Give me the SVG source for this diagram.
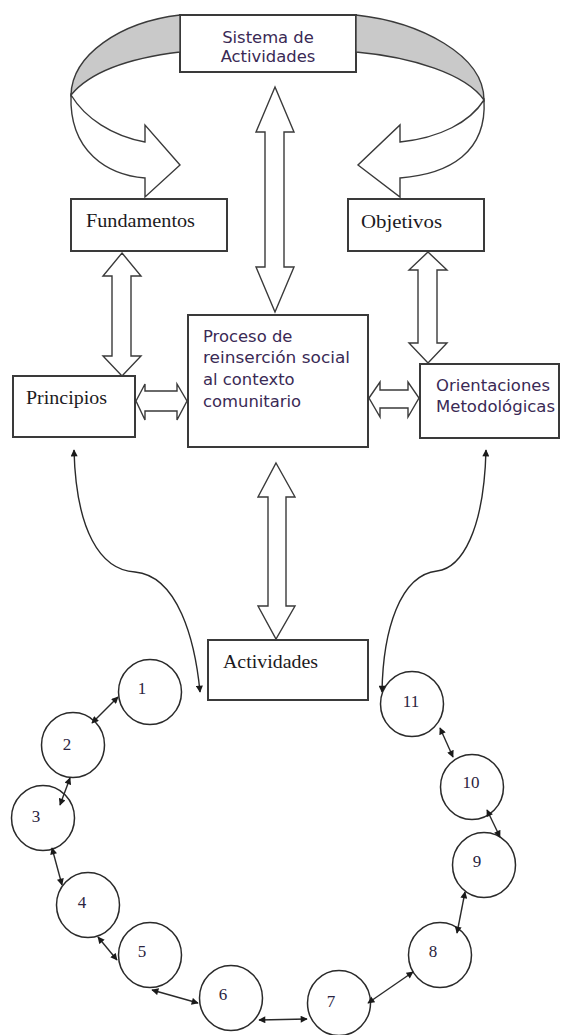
<svg xmlns="http://www.w3.org/2000/svg" width="561" height="1035" viewBox="0 0 561 1035">
<defs>
<style>
.box{fill:#fff;stroke:#3a3a3a;stroke-width:2}
.blk{fill:#fff;stroke:#3a3a3a;stroke-width:1.4;stroke-linejoin:miter}
.band{fill:#fff;stroke:#3a3a3a;stroke-width:1.4}
.grey{fill:#c9c9c9;stroke:#3a3a3a;stroke-width:1.4}
.cir{fill:#fff;stroke:#2a2a2a;stroke-width:1.5}
.lnk{fill:none;stroke:#2a2a2a;stroke-width:1.4;marker-start:url(#ah);marker-end:url(#ah)}
.cur{fill:none;stroke:#2a2a2a;stroke-width:1.4;marker-start:url(#ah);marker-end:url(#ah)}
.serif{font-family:"Liberation Serif","Times New Roman",serif;font-size:19.5px;fill:#1c1a22}
.sans{font-family:"DejaVu Sans",Verdana,sans-serif;font-size:16.4px;fill:#3a2a55}
.num{font-family:"Liberation Serif","Times New Roman",serif;font-size:17px;fill:#2a2440;text-anchor:middle}
</style>
<marker id="ah" viewBox="0 0 10 10" refX="9" refY="5" markerWidth="8" markerHeight="7" markerUnits="userSpaceOnUse" orient="auto-start-reverse">
<path d="M0,0 L10,5 L0,10 Z" fill="#1a1a1a"/>
</marker>
</defs>

<g id="sistema">
<rect class="box" x="180" y="15" width="176" height="57"/>
<text class="sans" x="268" y="43" text-anchor="middle">Sistema de</text>
<text class="sans" x="268" y="62" text-anchor="middle">Actividades</text>
</g>
<g id="fundamentos">
<rect class="box" x="71" y="199" width="156" height="52"/>
<text class="serif" x="86" y="227" textLength="109" lengthAdjust="spacingAndGlyphs">Fundamentos</text>
</g>
<g id="objetivos">
<rect class="box" x="348" y="199" width="136" height="52"/>
<text class="serif" x="361" y="228" textLength="81" lengthAdjust="spacingAndGlyphs">Objetivos</text>
</g>
<g id="principios">
<rect class="box" x="13" y="376" width="122" height="61"/>
<text class="serif" x="26" y="404" textLength="81" lengthAdjust="spacingAndGlyphs">Principios</text>
</g>
<g id="proceso">
<rect class="box" x="188" y="315" width="180" height="132"/>
<text class="sans" x="203" y="342">Proceso de</text>
<text class="sans" x="203" y="363" textLength="147" lengthAdjust="spacingAndGlyphs">reinserción social</text>
<text class="sans" x="203" y="385">al contexto</text>
<text class="sans" x="203" y="407">comunitario</text>
</g>
<g id="orientaciones">
<rect class="box" x="420" y="364" width="139" height="74"/>
<text class="sans" x="436" y="391" textLength="114" lengthAdjust="spacingAndGlyphs">Orientaciones</text>
<text class="sans" x="436" y="412" textLength="119" lengthAdjust="spacingAndGlyphs">Metodológicas</text>
</g>
<g id="actividades">
<rect class="box" x="208" y="640" width="160" height="60"/>
<text class="serif" x="223" y="668" textLength="95" lengthAdjust="spacingAndGlyphs">Actividades</text>
</g>

<g id="c1"><ellipse class="cir" cx="150" cy="692" rx="31.5" ry="32.5"/><text class="num" x="142" y="694">1</text></g>
<g id="c2"><ellipse class="cir" cx="73" cy="745" rx="31.5" ry="32.5"/><text class="num" x="67" y="750">2</text></g>
<g id="c3"><ellipse class="cir" cx="43" cy="818" rx="31.5" ry="32.5"/><text class="num" x="36" y="822">3</text></g>
<g id="c4"><ellipse class="cir" cx="88" cy="905" rx="31.5" ry="32.5"/><text class="num" x="82" y="908">4</text></g>
<g id="c5"><ellipse class="cir" cx="150" cy="955" rx="31.5" ry="32.5"/><text class="num" x="142" y="957">5</text></g>
<g id="c6"><ellipse class="cir" cx="231" cy="998" rx="31.5" ry="32.5"/><text class="num" x="223" y="1000">6</text></g>
<g id="c7"><ellipse class="cir" cx="339" cy="1003" rx="31.5" ry="32.5"/><text class="num" x="331" y="1007">7</text></g>
<g id="c8"><ellipse class="cir" cx="440" cy="955" rx="31.5" ry="32.5"/><text class="num" x="433" y="957">8</text></g>
<g id="c9"><ellipse class="cir" cx="484" cy="865" rx="31.5" ry="32.5"/><text class="num" x="477" y="867">9</text></g>
<g id="c10"><ellipse class="cir" cx="472" cy="787" rx="31.5" ry="32.5"/><text class="num" x="471" y="788">10</text></g>
<g id="c11"><ellipse class="cir" cx="412" cy="704" rx="31.5" ry="32.5"/><text class="num" x="411" y="707">11</text></g>

<g id="connectors">
<g id="band-left">
<path class="grey" d="M180,15 C120,22 72,55 71,95 C90,72 130,58 180,52 Z"/>
<path class="band" d="M71,95 C85,118 112,136 145,142 L145,125 L180,165 L145,197 L145,178 C108,175 69,152 71,95 Z"/>
</g>
<g id="band-right">
<path class="grey" d="M356,15 C420,22 484,55 484,100 C466,74 412,57 356,52 Z"/>
<path class="band" d="M484,100 C470,122 440,138 400,142 L400,125 L358,165 L400,197 L400,178 C450,174 487,152 484,100 Z"/>
</g>
<polygon id="arrow-sistema-proceso" class="blk" points="275,87 294,132 284,132 284,267 294,267 275,312 256,267 265,267 265,132 256,132"/>
<polygon id="arrow-fund-princ" class="blk" points="122,253 141,276 131,276 131,356 141,356 122,376 103,356 112,356 112,276 103,276"/>
<polygon id="arrow-obj-orient" class="blk" points="428,252 447,270 437,270 437,343 447,343 428,363 409,343 418,343 418,270 409,270"/>
<polygon id="arrow-princ-proceso" class="blk" points="136,401 145,384 145,391 177,391 177,384 187,401 177,420 177,411 145,411 145,420"/>
<polygon id="arrow-proceso-orient" class="blk" points="369,398 380,382 380,390 408,390 408,382 419,398 408,417 408,408 380,408 380,417"/>
<polygon id="arrow-proceso-activ" class="blk" points="276,463 295,497 286,497 286,606 295,606 276,639 258,606 268,606 268,497 258,497"/>
<path class="cur" d="M200,692 C195,640 178,576 135,572 C100,570 76,530 74,450"/>
<path class="cur" d="M382,692 C383,630 400,575 437,571 C462,568 484,530 486,450"/>
<line class="lnk" x1="92" y1="723" x2="118" y2="697"/>
<line class="lnk" x1="70" y1="778" x2="60" y2="805"/>
<line class="lnk" x1="52" y1="848" x2="62" y2="885"/>
<line class="lnk" x1="98" y1="937" x2="117" y2="960"/>
<line class="lnk" x1="152" y1="990" x2="198" y2="1003"/>
<line class="lnk" x1="259" y1="1020" x2="307" y2="1019"/>
<line class="lnk" x1="368" y1="1003" x2="413" y2="972"/>
<line class="lnk" x1="457" y1="933" x2="465" y2="892"/>
<line class="lnk" x1="500" y1="837" x2="487" y2="810"/>
<line class="lnk" x1="453" y1="757" x2="440" y2="728"/>
</g>
</svg>
